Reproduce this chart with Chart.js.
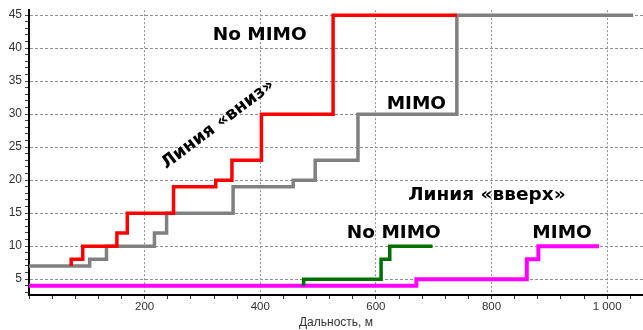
<!DOCTYPE html>
<html>
<head>
<meta charset="utf-8">
<script src="https://cdn.jsdelivr.net/npm/chart.js@4/dist/chart.umd.min.js"></script>
<style>
  html, body { margin: 0; padding: 0; background: #fff; }
  #wrap { width: 643px; height: 330px; position: relative; }
</style>
</head>
<body>
<div id="wrap"><canvas id="myChart"></canvas></div>
<script>
// distance (m) where each step starts, and speed level held from there
var downNoMimoDist = [73, 73, 93, 152, 170, 250, 323, 351, 402, 526, 740];
var downNoMimoVal  = [7, 8, 10, 12, 15, 19, 20, 23, 30, 45, 45];
var downMimoDist   = [0, 105, 134, 217, 238, 353, 457, 495, 569, 740, 1045];
var downMimoVal    = [7, 8, 10, 12, 15, 19, 20, 23, 30, 45, 45];
var upNoMimoDist   = [475, 475, 609, 624, 698];
var upNoMimoVal    = [4, 5, 8, 10, 10];
var upMimoDist     = [0, 670, 861, 881, 986];
var upMimoVal      = [4, 5, 8, 10, 10];

var xTickValues = [];
for (var t = 0; t <= 1040; t += 40) xTickValues.push(t);
var yTickValues = [];
for (var v = 3; v <= 45; v++) yTickValues.push(v);

function pts(xs, ys) {
    return xs.map(function (x, i) { return {x: x, y: ys[i]}; });
}

function lineSet(label, xs, ys, color, w) {
    return {
        label: label,
        data: pts(xs, ys),
        borderColor: color,
        borderWidth: w,
        stepped: true,
        pointRadius: 0,
        fill: false,
        borderCapStyle: 'butt',
        borderJoinStyle: 'miter'
    };
}

// text labels drawn on the plot (position = data coords of text centre)
var notes = [
    {text: 'No MIMO', x: 399, y: 42.3, size: 18.5},
    {text: 'MIMO', x: 670, y: 31.8, size: 18.5},
    {text: 'Линия «вниз»', px: 217, py: 123, size: 17.5, rot: -37},
    {text: 'Линия «вверх»', x: 792, y: 18.0, size: 18.5},
    {text: 'No MIMO', x: 631, y: 12.25, size: 18.5},
    {text: 'MIMO', x: 922, y: 12.3, size: 18.5}
];

var notePlugin = {
    id: 'notes',
    afterDatasetsDraw: function (chart) {
        var ctx = chart.ctx;
        var xs = chart.scales.x, ys = chart.scales.y;
        ctx.save();
        ctx.fillStyle = '#000';
        ctx.textAlign = 'center';
        ctx.textBaseline = 'alphabetic';
        notes.forEach(function (n) {
            ctx.font = 'bold ' + n.size + 'px "DejaVu Sans"';
            var cx = n.px !== undefined ? n.px : xs.getPixelForValue(n.x);
            var cy = n.py !== undefined ? n.py : ys.getPixelForValue(n.y);
            ctx.save();
            ctx.translate(cx, cy);
            if (n.rot) ctx.rotate(n.rot * Math.PI / 180);
            ctx.fillText(n.text, 0, n.size * 0.36);
            ctx.restore();
        });
        ctx.restore();
    }
};

var canvas = document.getElementById('myChart');
var ctx = canvas.getContext('2d');
var myNewChart = new Chart(ctx, {
    type: 'line',
    data: {
        datasets: [
            lineSet('No MIMO вниз', downNoMimoDist, downNoMimoVal, '#ff0000', 3.5),
            lineSet('No MIMO вверх', upNoMimoDist, upNoMimoVal, '#007000', 3.5),
            lineSet('MIMO вниз', downMimoDist, downMimoVal, '#808080', 3.5),
            lineSet('MIMO вверх', upMimoDist, upMimoVal, '#ff00ff', 4)
        ]
    },
    options: {
        responsive: true,
        maintainAspectRatio: false,
        animation: false,
        layout: {padding: {top: 9, right: 0, left: 0, bottom: 0}},
        plugins: {legend: {display: false}, tooltip: {enabled: false}},
        scales: {
            x: {
                type: 'linear',
                min: 0,
                max: 1062,
                afterBuildTicks: function (s) {
                    s.ticks = xTickValues.map(function (v) { return {value: v}; });
                },
                afterFit: function (s) { s.height = 35; },
                ticks: {
                    autoSkip: false,
                    maxRotation: 0,
                    padding: 1,
                    color: '#333',
                    font: {family: 'Liberation Sans', size: 11.5},
                    callback: function (value) {
                        if (value === 0 || value % 200 !== 0) return '';
                        return value === 1000 ? '1 000' : '' + value;
                    }
                },
                grid: {
                    color: function (c) {
                        return c.tick && c.tick.value % 200 === 0 && c.tick.value !== 0 ? '#909090' : 'rgba(0,0,0,0)';
                    },
                    lineWidth: 1,
                    borderDash: [2, 2],
                    tickColor: '#333',
                    tickLength: 4
                },
                border: {display: true, color: '#000', width: 2, dash: [2, 2]},
                title: {
                    display: true,
                    text: 'Дальность, м',
                    color: '#333',
                    font: {family: 'Liberation Sans', size: 12},
                    padding: {top: 1, bottom: 0}
                }
            },
            y: {
                type: 'linear',
                min: 2.6,
                max: 45.75,
                afterBuildTicks: function (s) {
                    s.ticks = yTickValues.map(function (v) { return {value: v}; });
                },
                afterFit: function (s) { s.width = 29; },
                ticks: {
                    autoSkip: false,
                    padding: 3,
                    color: '#333',
                    font: {family: 'Liberation Sans', size: 12},
                    callback: function (value) {
                        return value % 5 === 0 ? '' + value : '';
                    }
                },
                grid: {
                    color: function (c) {
                        return c.tick && c.tick.value % 5 === 0 ? '#909090' : 'rgba(0,0,0,0)';
                    },
                    lineWidth: 1,
                    borderDash: [3, 2],
                    tickColor: '#444',
                    tickLength: 4
                },
                border: {display: true, color: '#000', width: 2, dash: [3, 2]}
            }
        }
    },
    plugins: [notePlugin]
});
</script>
</body>
</html>
